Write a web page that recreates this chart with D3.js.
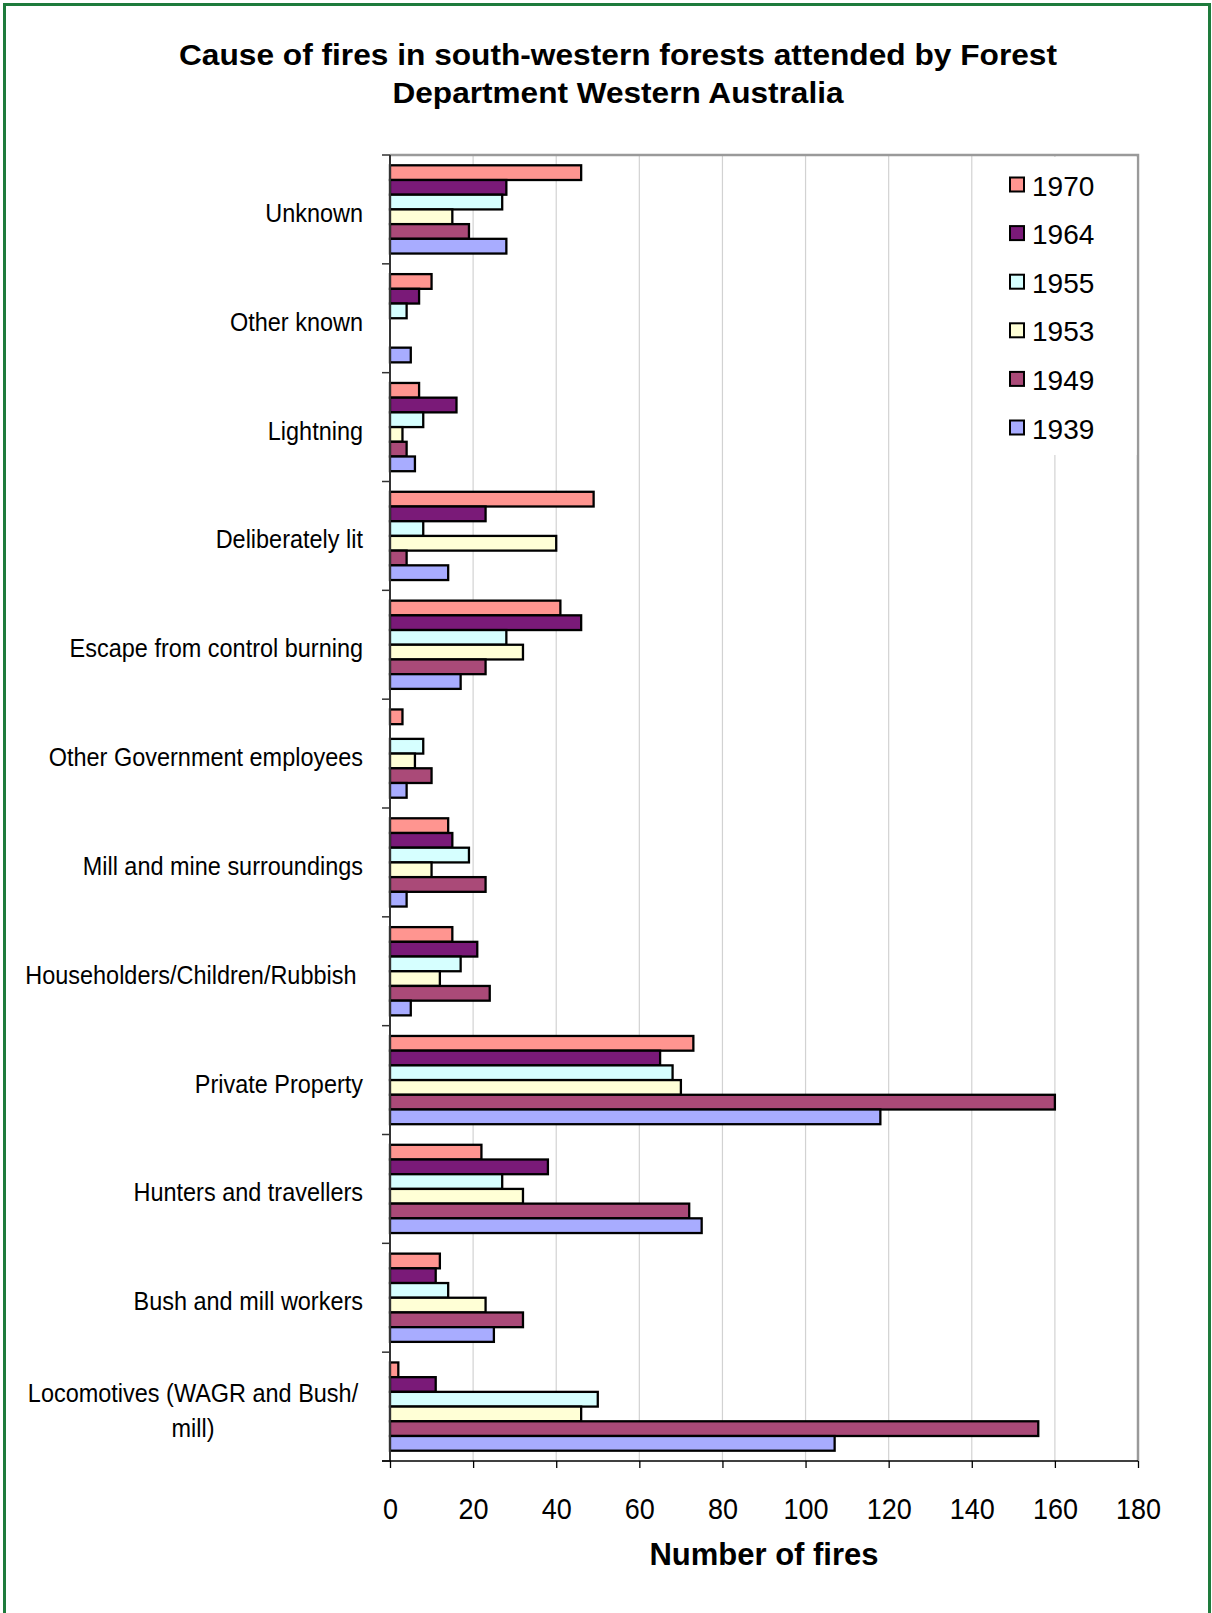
<!DOCTYPE html>
<html>
<head>
<meta charset="utf-8">
<script src="https://cdnjs.cloudflare.com/ajax/libs/d3/7.8.5/d3.min.js"></script>
<style>
  html, body { margin: 0; padding: 0; background: #fff; }
  svg { display: block; font-family: "Liberation Sans", Arial, sans-serif; }
</style>
</head>
<body>
<svg id="chart" width="1212" height="1613"></svg>
<script>
// ---------- DATA ----------
const titleLines = ["Cause of fires in south-western forests attended by Forest",
                    "Department Western Australia"];
const xAxisTitle = "Number of fires";
const categories = [
  "Unknown",
  "Other known",
  "Lightning",
  "Deliberately lit",
  "Escape from control burning",
  "Other Government employees",
  "Mill and mine surroundings",
  "Householders/Children/Rubbish ",
  "Private Property",
  "Hunters and travellers",
  "Bush and mill workers",
  "Locomotives (WAGR and Bush/\nmill)"
];
const years = ["1970", "1964", "1955", "1953", "1949", "1939"];
const v1970 = [46, 10, 7, 49, 41, 3, 14, 15, 73, 22, 12, 2];
const v1964 = [28, 7, 16, 23, 46, 0, 15, 21, 65, 38, 11, 11];
const v1955 = [27, 4, 8, 8, 28, 8, 19, 17, 68, 27, 14, 50];
const v1953 = [15, 0, 3, 40, 32, 6, 10, 12, 70, 32, 23, 46];
const v1949 = [19, 0, 4, 4, 23, 10, 23, 24, 160, 72, 32, 156];
const v1939 = [28, 5, 6, 14, 17, 4, 4, 5, 118, 75, 25, 107];
const xTicks = [0, 20, 40, 60, 80, 100, 120, 140, 160, 180];

const seriesValues = { "1970": v1970, "1964": v1964, "1955": v1955,
                       "1953": v1953, "1949": v1949, "1939": v1939 };
const colors = { "1970": "#FF9590", "1964": "#7A1A78", "1955": "#D6FFFF",
                 "1953": "#FFFFD6", "1949": "#AA4A78", "1939": "#A8ACFF" };

// ---------- LAYOUT ----------
const svg = d3.select("#chart");
const plotL = 390, plotR = 1138, plotT = 155, plotB = 1461;

const x = d3.scaleLinear().domain([0, 180]).range([plotL, plotR]);
const y = d3.scaleBand().domain(categories).range([plotT, plotB]);
const yi = d3.scaleBand().domain(years).range([0, y.bandwidth()])
             .paddingInner(0).paddingOuter(0.7);

// frame
svg.append("rect").attr("x", 4.5).attr("y", 4.5).attr("width", 1205)
  .attr("height", 1650).attr("fill", "none")
  .attr("stroke", "#1E7B3C").attr("stroke-width", 3);

// title
svg.selectAll("text.title").data(titleLines).enter().append("text")
  .attr("class", "title")
  .attr("x", 618).attr("y", (d, i) => 65 + i * 38)
  .attr("text-anchor", "middle")
  .attr("font-size", 29).attr("font-weight", "bold").attr("fill", "#000")
  .attr("textLength", (d, i) => i === 0 ? 878 : 451)
  .attr("lengthAdjust", "spacingAndGlyphs")
  .text(d => d);

// gridlines
svg.append("g").selectAll("line").data(xTicks.filter(t => t > 0 && t < 180))
  .enter().append("line")
  .attr("x1", d => x(d)).attr("x2", d => x(d))
  .attr("y1", plotT).attr("y2", plotB)
  .attr("stroke", "#d2d2d2").attr("stroke-width", 1.2);

// plot border (top / right)
svg.append("path")
  .attr("d", `M${plotL},${plotT}H${plotR}V${plotB}`)
  .attr("fill", "none").attr("stroke", "#9a9a9a").attr("stroke-width", 2.5);

// legend background (covers gridlines)
svg.append("rect").attr("x", 1000).attr("y", plotT + 2)
  .attr("width", plotR - 1000 - 1.5).attr("height", 298).attr("fill", "#fff");

// bars
const groups = svg.append("g").selectAll("g").data(categories).enter().append("g")
  .attr("transform", d => `translate(0,${y(d)})`);
groups.selectAll("rect")
  .data((c, ci) => years.map(yr => ({ yr, v: seriesValues[yr][ci] })).filter(d => d.v > 0))
  .enter().append("rect")
  .attr("x", x(0))
  .attr("y", d => yi(d.yr))
  .attr("width", d => x(d.v) - x(0))
  .attr("height", yi.bandwidth())
  .attr("fill", d => colors[d.yr])
  .attr("stroke", "#000").attr("stroke-width", 2.3);

// left axis line and boundary ticks
svg.append("line").attr("x1", plotL).attr("x2", plotL)
  .attr("y1", plotT).attr("y2", plotB)
  .attr("stroke", "#333").attr("stroke-width", 2);
const bounds = categories.map(c => y(c)).concat([plotB]);
svg.append("g").selectAll("line").data(bounds).enter().append("line")
  .attr("x1", plotL - 8).attr("x2", plotL)
  .attr("y1", d => d).attr("y2", d => d)
  .attr("stroke", "#333").attr("stroke-width", 1.5);

// category labels
const lab = svg.append("g").selectAll("g").data(categories).enter().append("g")
  .attr("transform", d => `translate(0,${y(d) + y.bandwidth() / 2 + 3.5})`);
lab.each(function (d) {
  const lines = d.split("\n");
  const g = d3.select(this);
  const lh = 35;
  lines.forEach((ln, i) => {
    const multi = lines.length > 1;
    const ax = multi ? 193 : 363;
    g.append("text")
      .attr("transform", `translate(${ax},${(i - (lines.length - 1) / 2) * lh + 9}) scale(0.92,1)`)
      .attr("text-anchor", multi ? "middle" : "end")
      .attr("font-size", 25.5).attr("fill", "#000")
      .style("white-space", "pre")
      .text(ln);
  });
});

// bottom axis
const xAxis = d3.axisBottom(x).tickValues(xTicks).tickSize(7).tickSizeOuter(0);
const gx = svg.append("g").attr("transform", `translate(0,${plotB})`).call(xAxis);
gx.select(".domain").attr("stroke", "#000").attr("stroke-width", 1.5)
  .attr("d", `M${plotL - 8},0H${plotR}`);
gx.selectAll(".tick line").attr("stroke", "#000").attr("stroke-width", 1.3);
gx.selectAll(".tick text")
  .attr("y", 58).attr("dy", 0)
  .attr("font-size", 30).attr("font-family", "'Liberation Sans', Arial, sans-serif")
  .attr("fill", "#000")
  .attr("transform", "scale(0.9,1)");

// x axis title
svg.append("text").attr("x", (plotL + plotR) / 2).attr("y", 1565)
  .attr("text-anchor", "middle").attr("font-size", 31).attr("font-weight", "bold")
  .text(xAxisTitle);

// legend
const leg = svg.append("g").selectAll("g").data(years).enter().append("g")
  .attr("transform", (d, i) => `translate(1010,${185 + i * 48.6})`);
leg.append("rect").attr("x", 0).attr("y", -7.5).attr("width", 14).attr("height", 14)
  .attr("fill", d => colors[d]).attr("stroke", "#000").attr("stroke-width", 2);
leg.append("text").attr("x", 22).attr("y", 10.5)
  .attr("font-size", 28).attr("fill", "#000").text(d => d);
</script>
</body>
</html>
